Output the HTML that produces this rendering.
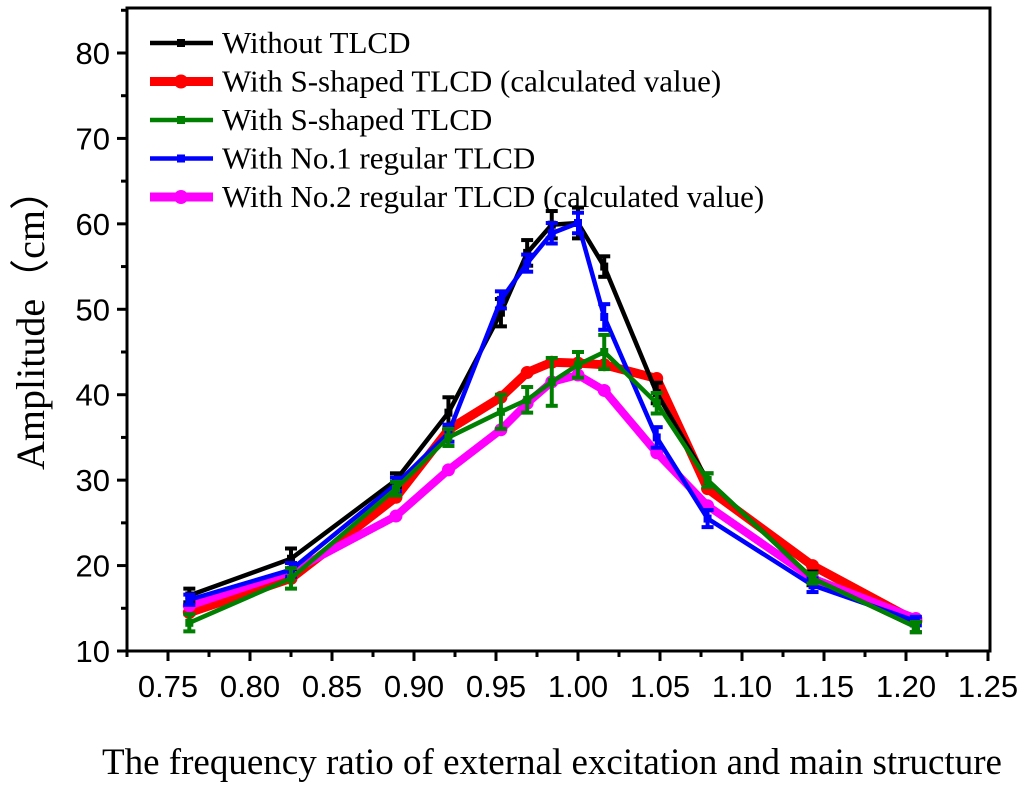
<!DOCTYPE html>
<html><head><meta charset="utf-8"><style>
html,body{margin:0;padding:0;background:#fff;width:1024px;height:786px;overflow:hidden}
svg text{font-family:"Liberation Sans",sans-serif}
.serif{font-family:"Liberation Serif",serif}
</style></head><body>
<svg id="chart" width="1024" height="786" xmlns="http://www.w3.org/2000/svg"></svg>
<script>
const xVals=[0.763,0.825,0.889,0.921,0.953,0.969,0.984,1.0,1.016,1.048,1.079,1.143,1.206];
const without=[16.5,20.8,30,37.9,49.6,56.6,59.9,60.1,55,40.2,30,18.5,12.8];
const withoutErr=[0.8,1.2,0.8,1.8,1.6,1.5,1.6,1.8,1.2,1.2,0.8,0.8,0.6];
const sCalc=[14.5,18.5,28,35.9,39.7,42.6,43.8,43.7,43.5,41.9,29,20,13.5];
const sMeas=[13.3,18.5,29,35,38,39.4,41.5,43.5,45,39,30,18.5,12.8];
const sMeasErr=[1,1.2,0.8,1,2,1.5,2.8,1.5,2,1.2,0.8,0.6,0.6];
const no1=[16,19.5,29.5,35.5,51.1,55.4,58.9,60.1,49.1,35,25.5,17.7,13.5];
const no1Err=[0.6,0.8,0.8,1,1,1,1.2,1.2,1.5,1.2,1,0.8,0.5];
const no2Calc=[15.3,19.3,25.8,31.2,35.9,39,41.5,42.3,40.5,33.2,27,18.5,13.8];
const yTicks=[10,20,30,40,50,60,70,80];
const xTicks=["0.75","0.80","0.85","0.90","0.95","1.00","1.05","1.10","1.15","1.20","1.25"];

const NS="http://www.w3.org/2000/svg";
const svg=document.getElementById('chart');
const L=127,R=990,T=8,B=651;
const X=v=>168+(v-0.75)*1640;
const Y=v=>B-(v-10)*8.543;
function mk(tag,attrs,parent){const e=document.createElementNS(NS,tag);for(const k in attrs)e.setAttribute(k,attrs[k]);(parent||svg).appendChild(e);return e;}

const frame=mk('rect',{x:L,y:T,width:R-L,height:B-T,fill:'none',stroke:'#000','stroke-width':3});



for(let v=10;v<=85;v+=5){
  const major=v%10===0;
  const t=mk('line',{x1:L,x2:L-(major?10:6),y1:Y(v),y2:Y(v),stroke:'#000','stroke-width':3});
  
  
}
yTicks.forEach(v=>{
  const t=mk('text',{x:110,y:Y(v)+11,'text-anchor':'end','font-size':31});
  t.textContent=v;
  
  
});
for(let i=0;i<=21;i++){
  const v=0.725+i*0.025;
  const major=i%2===1;
  const t=mk('line',{x1:X(v),x2:X(v),y1:B,y2:B+(major?10:6),stroke:'#000','stroke-width':3});
  
  
}
xTicks.forEach(s=>{
  const t=mk('text',{x:X(parseFloat(s)),y:B+46,'text-anchor':'middle','font-size':31});
  t.textContent=s;
  
  
});
const yt=mk('text',{x:0,y:0,'text-anchor':'middle','font-size':40,class:'serif',transform:'translate(44,320) rotate(-90)'});
yt.textContent='Amplitude（cm）';


const xt=mk('text',{x:552,y:774,'text-anchor':'middle','font-size':37,class:'serif'});
xt.textContent='The frequency ratio of external excitation and main structure';



function series(name,vals,err,color,w,marker){
  const g=mk('g',{});
  
  
  mk('polyline',{points:xVals.map((x,i)=>X(x)+','+Y(vals[i])).join(' '),fill:'none',stroke:color,'stroke-width':w,'stroke-linejoin':'round'},g);
  xVals.forEach((x,i)=>{
    const cx=X(x),cy=Y(vals[i]);
    if(err){
      const e=err[i];
      mk('line',{x1:cx,x2:cx,y1:Y(vals[i]+e),y2:Y(vals[i]-e),stroke:color,'stroke-width':4},g);
      mk('line',{x1:cx-6,x2:cx+6,y1:Y(vals[i]+e),y2:Y(vals[i]+e),stroke:color,'stroke-width':4},g);
      mk('line',{x1:cx-6,x2:cx+6,y1:Y(vals[i]-e),y2:Y(vals[i]-e),stroke:color,'stroke-width':4},g);
    }
    const m=marker==='circle'?mk('circle',{cx:cx,cy:cy,r:6.5,fill:color},g):mk('rect',{x:cx-4,y:cy-4,width:8,height:8,fill:color},g);
    
    
  });
}
series('series-s-calculated',sCalc,null,'#ff0000',9,'circle');
series('series-no2-calculated',no2Calc,null,'#ff00ff',8,'circle');
series('series-without-tlcd',without,withoutErr,'#000000',4.5,'square');
series('series-no1-regular',no1,no1Err,'#0000ff',4.5,'square');
series('series-s-shaped',sMeas,sMeasErr,'#008000',4.5,'square');

const legend=[['Without TLCD','#000',4.5,'square'],['With S-shaped TLCD (calculated value)','#ff0000',9,'circle'],['With S-shaped TLCD','#008000',4.5,'square'],['With No.1 regular TLCD','#0000ff',4.5,'square'],['With No.2 regular TLCD (calculated value)','#ff00ff',9,'circle']];
legend.forEach((l,i)=>{
  const y=43+i*38.5;
  const g=mk('g',{});
  
  
  mk('line',{x1:150,x2:213,y1:y,y2:y,stroke:l[1],'stroke-width':l[2]},g);
  if(l[3]==='circle')mk('circle',{cx:181,cy:y,r:7,fill:l[1]},g);else mk('rect',{x:177,y:y-4,width:8,height:8,fill:l[1]},g);
  const t=mk('text',{x:222,y:y+10,'font-size':31,class:'serif'},g);
  t.textContent=l[0];
});
</script>
</body></html>
